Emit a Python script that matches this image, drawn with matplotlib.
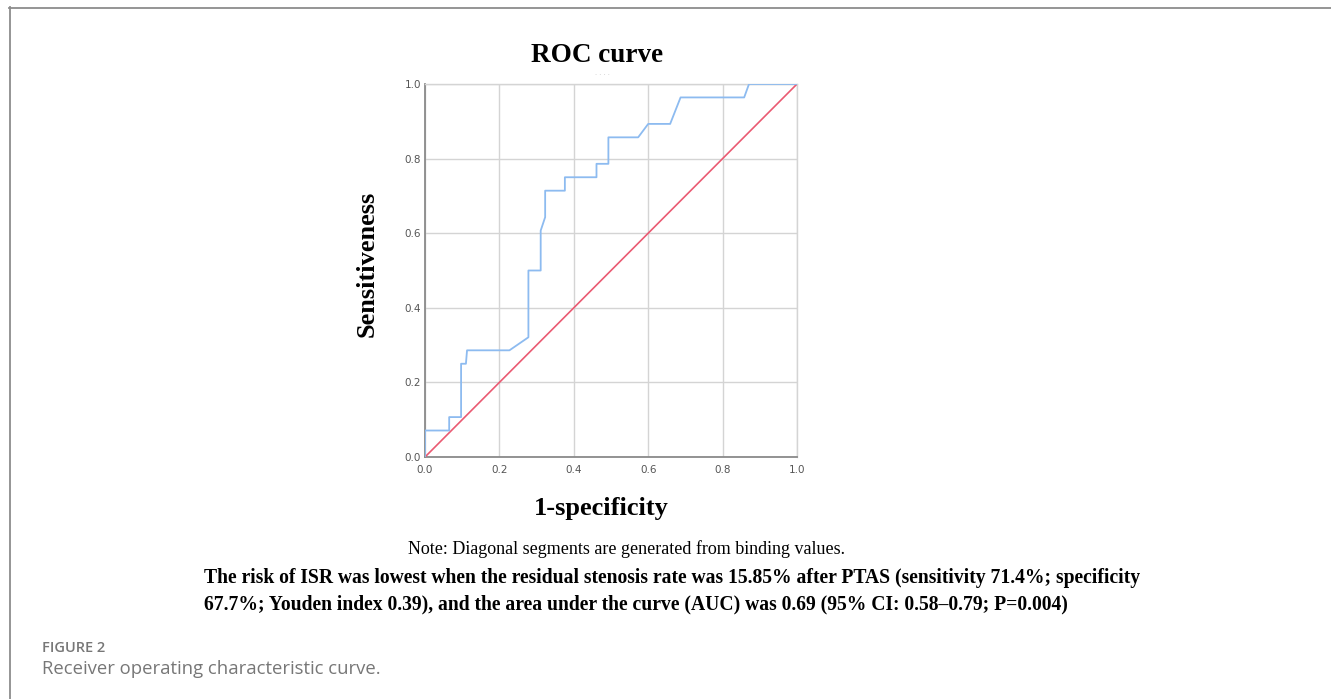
import matplotlib
matplotlib.use("Agg")
import matplotlib.pyplot as plt
from matplotlib.lines import Line2D

W, H = 1331, 699

# ROC curve points
fpr = [0, 0, 0.065, 0.065, 0.097, 0.097, 0.11, 0.113, 0.227, 0.278, 0.278, 0.311, 0.311, 0.323,
       0.323, 0.376, 0.376, 0.461, 0.461, 0.493, 0.493, 0.573, 0.600, 0.659, 0.687, 0.858, 0.871, 1.0]
tpr = [0, 0.071, 0.071, 0.107, 0.107, 0.25, 0.25, 0.286, 0.286, 0.321, 0.5, 0.5, 0.607, 0.643,
       0.714, 0.714, 0.75, 0.75, 0.786, 0.786, 0.857, 0.857, 0.893, 0.893, 0.964, 0.964, 1.0, 1.0]
ref_line = [0, 1]
ticks = [0.0, 0.2, 0.4, 0.6, 0.8, 1.0]

note = "Note: Diagonal segments are generated from binding values."
result_1 = ("The risk of ISR was lowest when the residual stenosis rate was 15.85% after PTAS "
            "(sensitivity 71.4%; specificity")
result_2 = "67.7%; Youden index 0.39), and the area under the curve (AUC) was 0.69 (95% CI: 0.58\u20130.79; P=0.004)"


def fx(px):
    return px / W


def fy(py):
    return 1 - py / H


fig = plt.figure(figsize=(W / 100, H / 100), dpi=100)

# page frame (top and left rules)
fig.add_artist(Line2D([fx(9), 1], [fy(7.5), fy(7.5)], color="#8c8c8c", lw=1.3))
fig.add_artist(Line2D([fx(9.5), fx(9.5)], [fy(7), 0], color="#8c8c8c", lw=1.3))

# plot area
x0, x1, y0, y1 = 425, 797, 457, 84
ax = fig.add_axes([fx(x0), fy(y0), (x1 - x0) / W, (y0 - y1) / H])
ax.plot(ref_line, ref_line, color="#ea5a72", lw=1.2, zorder=3)
ax.plot(fpr, tpr, color="#8dbbf0", lw=1.3, zorder=4)
ax.set_xlim(0, 1)
ax.set_ylim(0, 1)
ax.set_xticks(ticks)
ax.set_yticks(ticks)
ax.set_xticklabels([f"{t:.1f}" for t in ticks])
ax.set_yticklabels([f"{t:.1f}" for t in ticks])
ax.grid(True, color="#d4d4d4", lw=1.0)
ax.set_axisbelow(True)
ax.tick_params(length=0, labelsize=7.5, labelcolor="#555555")
ax.tick_params(axis="x", pad=6)
ax.tick_params(axis="y", pad=3)
for side in ("top", "right"):
    ax.spines[side].set_color("#d4d4d4")
    ax.spines[side].set_linewidth(1.0)
for side in ("left", "bottom"):
    ax.spines[side].set_color("#8a8a8a")
    ax.spines[side].set_linewidth(1.3)

serif = ["Liberation Serif", "DejaVu Serif"]
fig.text(fx(597), fy(55), "ROC curve", family=serif, fontsize=19.5, fontweight="bold",
         ha="center", va="center")
fig.text(fx(602), fy(73), ". . . .", family=serif, fontsize=6, color="#d0d0d0",
         ha="center", va="center")
fig.text(fx(367), fy(264), "Sensitiveness", family=serif, fontsize=19, fontweight="bold",
         rotation=90, ha="center", va="center")
fig.text(fx(601), fy(508), "1-specificity", family=serif, fontsize=19, fontweight="bold",
         ha="center", va="center")
fig.text(fx(626), fy(549), note, family=serif, fontsize=13, ha="center", va="center")
fig.text(fx(204), fy(578), result_1, family=serif, fontsize=14.1, fontweight="bold",
         ha="left", va="center")
fig.text(fx(204), fy(604), result_2, family=serif, fontsize=14.1, fontweight="bold",
         ha="left", va="center")

fig.text(fx(42), fy(648), "FIGURE 2", family="Open Sans", fontsize=10.5, fontweight="semibold",
         color="#777777", ha="left", va="center")
fig.text(fx(42), fy(669), "Receiver operating characteristic curve.", family="Open Sans",
         fontsize=13.3, color="#777777", ha="left", va="center")

fig.savefig("out.png", dpi=100)
